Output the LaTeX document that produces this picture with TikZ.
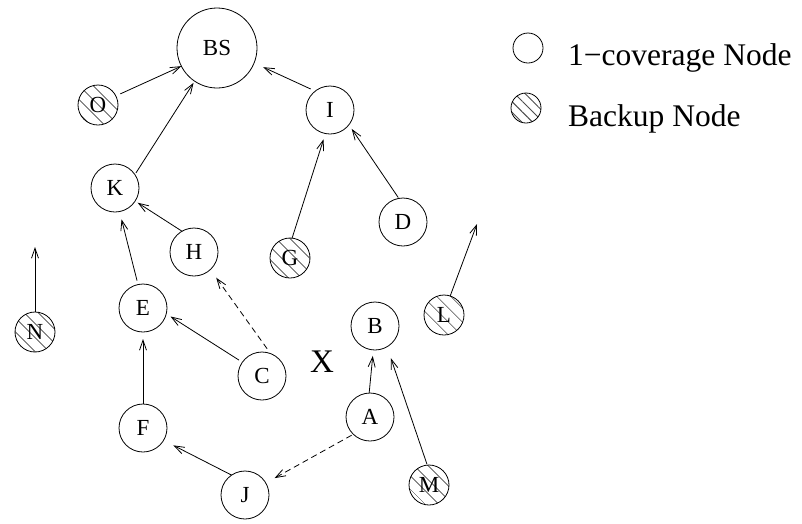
\documentclass[tikz,border=0pt]{standalone}
\usepackage{fontspec}
\setmainfont{Liberation Serif}
\usetikzlibrary{arrows.meta,patterns.meta}
\begin{document}
\begin{tikzpicture}[x=1pt,y=-1pt,
  nd/.style={circle, draw, line width=0.8pt, minimum size=48pt, inner sep=0pt, outer sep=0pt, font=\fontsize{23}{26}\selectfont},
  bk/.style={nd, minimum size=40pt, pattern={Lines[angle=-45,distance=10.5pt,line width=0.9pt]}, pattern color=black!70},
  arr/.style={-{Straight Barb[length=10pt,width=7pt]}, line width=0.8pt},
  dsh/.style={arr, dash pattern=on 6pt off 4pt},
  lbl/.style={inner sep=0pt, anchor=base west, font=\fontsize{31.5}{36}\selectfont}]
\fill[white] (0,0) rectangle (802,523);
\useasboundingbox (0,0) rectangle (802,523);
% nodes
\node[nd, minimum size=80pt] (BS) at (217,48) {BS};
\node[bk] (O) at (98,105) {O};
\node[nd] (I) at (330,110) {I};
\node[nd] (K) at (115,188) {K};
\node[nd] (H) at (194,252) {H};
\node[bk] (G) at (290,258) {G};
\node[nd] (D) at (403,222) {D};
\node[bk] (N) at (35,332) {N};
\node[nd] (E) at (143,308) {E};
\node[bk] (L) at (444,315) {L};
\node[nd] (B) at (375,326) {B};
\node[nd] (C) at (262,376) {C};
\node[nd] (A) at (370,417) {A};
\node[nd] (F) at (143,428) {F};
\node[nd] (J) at (245,495) {J};
\node[bk] (M) at (429,485) {M};
\node[font=\fontsize{33}{36}\selectfont, inner sep=0pt] (X) at (322,362) {X};
% connectors
\draw[arr, shorten <=5pt] (O.27) -- (BS.207);
\draw[arr, shorten <=2pt, shorten >=2pt] (K.34) -- (BS.236);
\draw[arr, shorten <=5pt, shorten >=10pt] (I.128) -- (BS.338);
\draw[arr, shorten >=6pt] (G.84) -- (I.259);
\draw[arr, shorten <=1pt, shorten >=5pt] (D.100) -- (I.322);
\draw[arr, shorten >=3pt] (H.120) -- (K.327);
\draw[arr, shorten <=4pt, shorten >=8pt] (E.102) -- (K.281);
\draw[arr, shorten <=4pt, shorten >=5pt] (C.145) -- (E.346);
\draw[dsh, shorten <=6pt, shorten >=10pt] (C.69) -- (H.313);
\draw[arr, shorten >=7pt] (F.90) -- (E.270);
\draw[arr, shorten >=11pt] (J.124) -- (F.329);
\draw[arr, shorten >=6pt] (A.92) -- (B.266);
\draw[dsh, shorten <=2pt, shorten >=10pt] (A.226) -- (J.30);
\draw[arr, shorten <=1pt, shorten >=12pt] (M.95) -- (B.300);
\coordinate (nend) at (35,247);
\draw[arr] (N.90) -- (nend);
\coordinate (lend) at (477,224);
\draw[arr] (L.72) -- (lend);
% legend
\node[circle, draw, line width=0.8pt, minimum size=30pt, inner sep=0pt] (lg1) at (528,48) {};
\node[circle, draw, line width=0.8pt, minimum size=30pt, inner sep=0pt, pattern={Lines[angle=-45,distance=7.5pt,line width=0.9pt]}, pattern color=black!70] (lg2) at (526,108) {};
\node[lbl] (t1) at (568,65) {1−coverage Node};
\node[lbl] (t2) at (568,126) {Backup Node};
\end{tikzpicture}
\end{document}
